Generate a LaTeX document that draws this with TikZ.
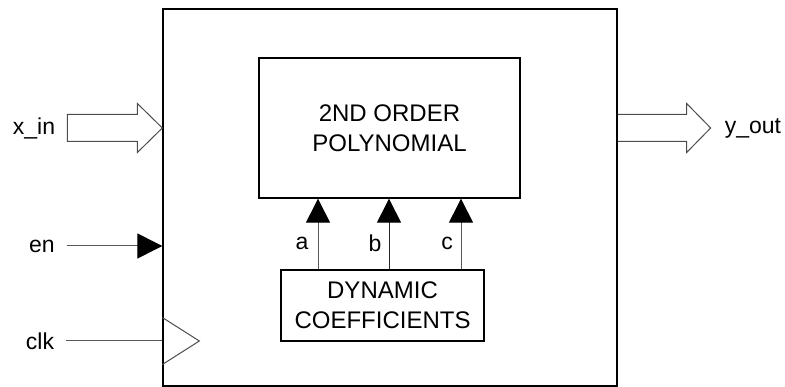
\documentclass[tikz,border=0pt]{standalone}
\usepackage{fontspec}
\setmainfont{Liberation Sans}
\usetikzlibrary{arrows.meta,calc}
\begin{document}
\begin{tikzpicture}[x=1pt,y=-1pt,
  box/.style={draw=black,line width=1.3pt,inner sep=0pt},
  sig/.style={draw=black!65,line width=1pt},
  hollow/.style={draw=black!70,line width=1pt,line join=miter},
  lbl/.style={inner sep=0pt,font=\fontsize{23}{30}\selectfont},
  txt/.style={align=center,font=\fontsize{24}{30}\selectfont},
  filltip/.style={-{Triangle[length=24pt,width=24pt,fill=black,color=black]}}
]
\useasboundingbox (0,0) rectangle (785,387);
% boxes
\node[box,minimum width=454pt,minimum height=377pt] (outer) at (390,197.5) {};
\node[box,minimum width=261pt,minimum height=140pt,txt] (poly) at (389.5,128) {2ND ORDER\\POLYNOMIAL};
\node[box,minimum width=203pt,minimum height=71pt,txt] (dyn) at (382.5,305.5) {DYNAMIC\\COEFFICIENTS};
% labels
\node[lbl] (xin) at (34,128) {x\_in};
\node[lbl] (en) at (42,246) {en};
\node[lbl] (clk) at (40,341) {clk};
\node[lbl] (yout) at (753,128) {y\_out};
\node[lbl] (la) at (302,243) {a};
\node[lbl] (lb) at (375,243) {b};
\node[lbl] (lc) at (447,243) {c};
% coefficient arrows
\coordinate (ca) at (318,0);
\coordinate (cb) at (389,0);
\coordinate (cc) at (461,0);
\draw[sig,filltip] (dyn.north -| ca) -- (poly.south -| ca);
\draw[sig,draw=black!85,filltip] (dyn.north -| cb) -- (poly.south -| cb);
\draw[sig,filltip] (dyn.north -| cc) -- (poly.south -| cc);
% x_in hollow arrow
\coordinate (xtip) at (outer.west |- xin);
\draw[hollow] (xtip) -- ++(-25,-24.5) -- ++(0,11) -- ++(-70,0) -- ++(0,27) -- ++(70,0) -- ++(0,11) -- cycle;
% y_out hollow arrow
\coordinate (ybase) at (outer.east |- yout);
\draw[hollow] ($(ybase)+(0,-13.5)$) -- ++(69,0) -- ++(0,-11) -- ($(ybase)+(93,0)$) -- ++(-24,24.5) -- ++(0,-11) -- ++(-69,0);
% en
\coordinate (enend) at (outer.west |- en);
\draw[sig,-{Triangle[length=25pt,width=25pt,fill=black,color=black]}] ($(en.east)+(12,0)$) -- (enend);
% clk
\coordinate (clkend) at (outer.west |- clk);
\draw[sig] ($(clk.east)+(12,0)$) -- (clkend);
\draw[hollow] ($(clkend)+(0,-23.5)$) -- ++(37,23.5) -- ++(-37,23.5);
\end{tikzpicture}
\end{document}
